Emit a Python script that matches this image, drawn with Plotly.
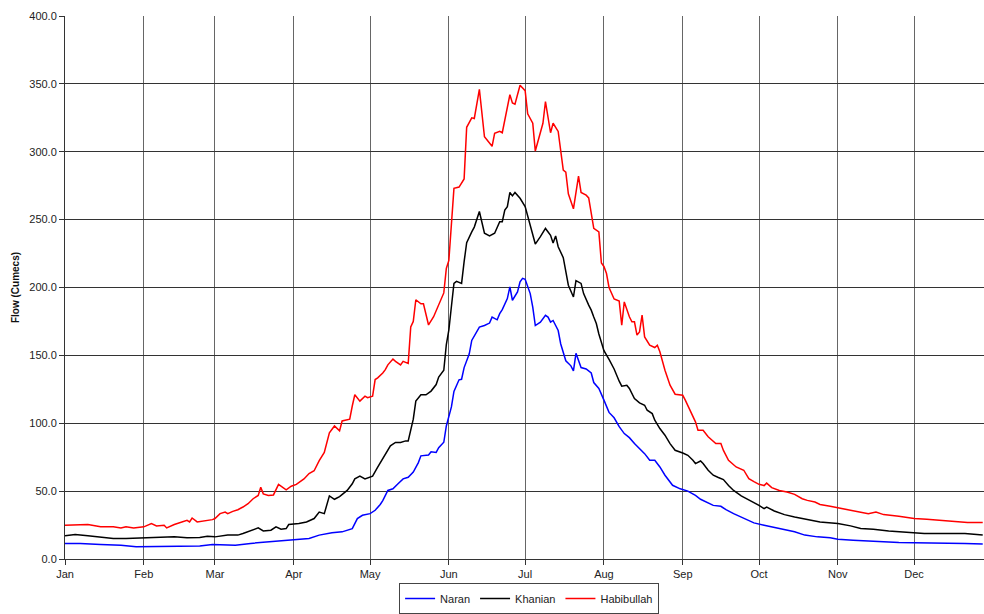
import pandas as pd
import plotly.graph_objects as go

# Daily flow readings (day offset from 1 Jan, flow in cumecs)
naran_day = [0, 6, 14, 22, 28, 40, 48, 53, 58, 67, 73, 81, 90, 96, 100, 105, 109, 113, 115, 117,
             120, 122, 124, 125, 127, 129, 131, 133, 135, 137, 139, 140, 143, 144, 146, 147, 149, 150,
             152, 153, 155, 156, 157, 159, 160, 162, 163, 165, 167, 168, 169, 170, 171, 172, 174, 175,
             176, 178, 179, 180, 181, 183, 184, 185, 187, 189, 190, 191, 192, 194, 195, 197, 199, 200,
             201, 203, 205, 207, 208, 210, 212, 214, 216, 218, 220, 222, 224, 226, 228, 230, 232, 234,
             236, 239, 242, 245, 248, 250, 254, 255, 258, 260, 263, 267, 271, 275, 279, 284, 287, 291,
             296, 301, 304, 310, 316, 321, 328, 334, 341, 347, 354, 361]
naran_flow = [11.5, 11.5, 10.7, 10.2, 9.0, 9.0, 9.5, 9.5, 10.7, 10.2, 11.5, 12.7, 13.9, 15.1, 17.6, 19.3,
              20.0, 22.4, 29.8, 32.2, 33.4, 35.9, 40.2, 43.0, 50.5, 51.7, 55.4, 59.0, 60.2, 64.0, 71.0,
              76.0, 76.6, 79.0, 78.5, 82.0, 86.0, 98.0, 112.0, 123.5, 132.0, 132.4, 141.0, 151.0, 161.0,
              168.3, 170.8, 172.0, 173.8, 178.2, 177.0, 176.2, 180.7, 183.7, 191.8, 200.5, 190.6, 196.8,
              204.2, 206.7, 206.0, 195.5, 185.6, 172.0, 174.5, 179.5, 178.2, 174.5, 175.7, 168.3, 158.4,
              146.0, 142.3, 138.6, 151.5, 141.0, 140.0, 137.0, 130.0, 125.6, 117.0, 108.0, 104.0, 97.5,
              92.4, 89.4, 85.0, 81.3, 77.6, 72.7, 72.7, 67.8, 61.7, 54.3, 51.7, 50.0, 46.8, 44.0, 40.2,
              39.5, 38.8, 36.3, 33.4, 29.8, 26.6, 24.9, 23.2, 21.2, 20.0, 17.6, 16.3, 15.6, 14.6, 13.9,
              13.2, 12.7, 12.2, 12.0, 12.0, 11.5, 11.5, 11.0]

khanian_day = [0, 4, 9, 14, 19, 24, 31, 36, 43, 48, 53, 56, 59, 64, 68, 70, 74, 76, 78, 81, 83, 85, 87,
               88, 92, 95, 98, 100, 102, 104, 106, 108, 111, 113, 114, 116, 118, 120, 121, 123, 125, 126,
               128, 130, 132, 134, 135, 137, 138, 140, 142, 144, 146, 147, 149, 150, 151, 152, 153, 154,
               156, 157, 158, 160, 161, 163, 165, 167, 169, 171, 172, 173, 174, 175, 176, 177, 179, 181,
               183, 185, 187, 189, 191, 192, 193, 194, 196, 197, 198, 200, 201, 203, 204, 206, 207, 208,
               209, 210, 211, 212, 214, 216, 218, 219, 221, 222, 224, 226, 228, 229, 231, 232, 234, 236,
               238, 240, 243, 245, 247, 248, 250, 251, 253, 255, 257, 259, 261, 263, 266, 269, 273, 275,
               276, 279, 283, 287, 292, 297, 304, 309, 313, 318, 324, 330, 334, 338, 347, 354, 361]
khanian_flow = [17.1, 18.0, 17.1, 15.9, 15.1, 15.1, 15.6, 16.3, 16.3, 15.6, 15.9, 16.8, 16.3, 17.6, 17.6,
                18.8, 21.2, 22.9, 20.7, 21.2, 23.7, 22.0, 22.4, 25.4, 26.1, 27.3, 29.8, 34.6, 33.4, 46.5,
                44.0, 46.0, 50.5, 55.4, 59.0, 61.0, 59.0, 60.2, 61.0, 67.6, 73.7, 77.3, 83.4, 85.9, 85.9,
                87.0, 87.0, 103.0, 116.3, 121.0, 121.0, 123.7, 128.5, 134.0, 139.0, 158.0, 168.8, 186.0,
                203.0, 204.5, 203.0, 219.0, 233.0, 241.0, 244.5, 256.0, 240.0, 238.0, 240.0, 248.5, 248.5,
                257.0, 259.6, 270.0, 267.5, 270.0, 265.7, 259.6, 245.0, 232.0, 237.5, 243.5, 238.5, 232.7,
                238.0, 230.0, 222.0, 213.0, 201.7, 193.0, 205.0, 203.0, 195.5, 187.0, 183.3, 178.2, 173.5,
                165.8, 158.7, 153.5, 147.0, 140.0, 131.0, 127.3, 128.0, 125.6, 118.2, 115.0, 113.3, 109.6,
                107.1, 102.2, 96.1, 91.2, 85.0, 80.1, 78.1, 76.4, 72.7, 70.3, 72.2, 70.3, 65.4, 61.7, 60.0,
                58.5, 54.2, 50.5, 46.5, 43.7, 39.5, 37.1, 38.3, 35.4, 32.7, 31.0, 29.0, 27.3, 26.1, 24.4,
                22.4, 22.0, 20.7, 20.0, 19.5, 18.8, 18.8, 18.8, 17.6]

habibullah_day = [0, 6, 9, 14, 19, 22, 24, 27, 31, 34, 36, 39, 40, 43, 46, 48, 49, 50, 52, 54, 56, 58, 59,
                  61, 63, 64, 66, 68, 70, 72, 74, 76, 77, 78, 80, 82, 84, 86, 87, 89, 91, 94, 96, 98, 100,
                  102, 103, 104, 106, 108, 109, 112, 113, 114, 116, 118, 119, 121, 122, 123, 125, 126, 127,
                  129, 130, 132, 133, 135, 136, 137, 138, 140, 141, 143, 145, 147, 149, 150, 151, 153, 155,
                  157, 158, 160, 161, 163, 165, 168, 169, 171, 172, 175, 176, 177, 179, 181, 182, 184, 185,
                  188, 189, 191, 192, 194, 196, 197, 198, 200, 202, 203, 205, 206, 208, 210, 211, 212, 213,
                  214, 216, 218, 219, 220, 222, 223, 224, 225, 226, 227, 228, 230, 232, 233, 234, 236, 238,
                  240, 243, 244, 246, 248, 249, 251, 253, 255, 256, 258, 259, 261, 264, 267, 269, 271, 273,
                  275, 276, 278, 279, 281, 284, 287, 290, 292, 295, 297, 301, 304, 308, 312, 316, 319, 322,
                  328, 334, 339, 345, 350, 355, 361]
habibullah_flow = [24.9, 24.9, 25.4, 23.7, 23.7, 22.9, 23.7, 22.9, 23.7, 26.1, 24.4, 24.9, 22.9, 25.4,
                   27.3, 28.5, 27.3, 30.2, 27.3, 27.8, 28.5, 29.0, 29.8, 33.4, 34.6, 33.4, 35.1, 36.3,
                   38.3, 40.7, 44.4, 46.8, 52.9, 48.0, 46.8, 47.2, 55.0, 52.4, 51.0, 53.6, 55.0, 59.0,
                   63.0, 65.0, 72.4, 78.5, 86.0, 93.0, 98.0, 94.4, 101.7, 103.0, 112.7, 121.0, 116.3,
                   120.0, 118.8, 120.0, 132.2, 133.4, 137.0, 139.5, 143.0, 147.3, 145.6, 143.0, 145.6,
                   144.0, 171.0, 175.0, 191.0, 188.0, 188.0, 172.4, 178.5, 187.0, 196.0, 214.0, 220.0,
                   273.0, 274.0, 280.0, 318.0, 325.0, 324.5, 346.0, 311.0, 304.0, 313.5, 315.0, 314.0,
                   342.0, 336.0, 335.0, 349.0, 345.0, 328.0, 321.0, 300.5, 321.0, 337.0, 314.0, 321.0,
                   315.0, 286.5, 285.0, 269.0, 258.0, 282.0, 270.0, 268.0, 266.0, 243.6, 241.0, 218.0,
                   215.5, 210.3, 200.0, 191.5, 190.0, 172.2, 189.4, 178.4, 174.7, 174.7, 164.9, 167.3,
                   179.6, 163.6, 157.5, 155.8, 157.5, 152.6, 139.0, 128.0, 121.4, 120.6, 117.0, 109.6,
                   101.0, 94.8, 94.8, 90.0, 86.2, 85.0, 85.0, 80.0, 72.7, 67.8, 65.4, 59.2, 57.0, 55.0,
                   54.1, 55.9, 52.6, 51.7, 50.5, 49.3, 47.6, 44.4, 43.2, 42.0, 40.2, 38.8, 37.8, 36.3,
                   34.6, 33.4, 34.6, 32.7, 31.5, 29.8, 29.3, 28.5, 27.8, 26.8, 26.8]

y_ticks = [0, 50, 100, 150, 200, 250, 300, 350, 400]

year_start = pd.Timestamp("2001-01-01")


def to_dates(days):
    return year_start + pd.to_timedelta(days, unit="D")


series = [
    ("Naran", naran_day, naran_flow, "#0000FF"),
    ("Khanian", khanian_day, khanian_flow, "#000000"),
    ("Habibullah", habibullah_day, habibullah_flow, "#FF0000"),
]

fig = go.Figure()
for name, days, flow, color in series:
    fig.add_trace(go.Scatter(
        x=to_dates(days), y=flow, name=name, mode="lines",
        line=dict(color=color, width=1.5),
    ))

font_family = "Liberation Sans, Arial, sans-serif"

fig.update_layout(
    width=984, height=614,
    margin=dict(l=65, r=0, t=16, b=55),
    paper_bgcolor="white", plot_bgcolor="white",
    font=dict(family=font_family, size=11, color="#222222"),
    showlegend=True,
    legend=dict(
        orientation="h", x=0.505, xanchor="center", y=-0.045, yanchor="top",
        bordercolor="#444444", borderwidth=1, bgcolor="white",
        font=dict(size=11, color="#222222"),
        itemwidth=30, tracegroupgap=0,
    ),
)

fig.update_xaxes(
    type="date",
    range=[year_start, year_start + pd.Timedelta(days=361.5)],
    tick0="2001-01-01", dtick="M1", tickformat="%b",
    showgrid=True, gridcolor="#666666", gridwidth=1,
    showline=True, linecolor="#333333", linewidth=1,
    ticks="outside", ticklen=5, tickcolor="#333333",
    zeroline=False,
)

fig.update_yaxes(
    range=[0, 400],
    tickvals=y_ticks, ticktext=[f"{v:.1f}" for v in y_ticks],
    showgrid=True, gridcolor="#333333", gridwidth=1,
    showline=True, linecolor="#333333", linewidth=1,
    ticks="outside", ticklen=5, tickcolor="#333333",
    zeroline=False,
    title=dict(text="<b>Flow (Cumecs)</b>", font=dict(size=10, color="#111111"), standoff=7),
)

fig.write_html("out.html")
